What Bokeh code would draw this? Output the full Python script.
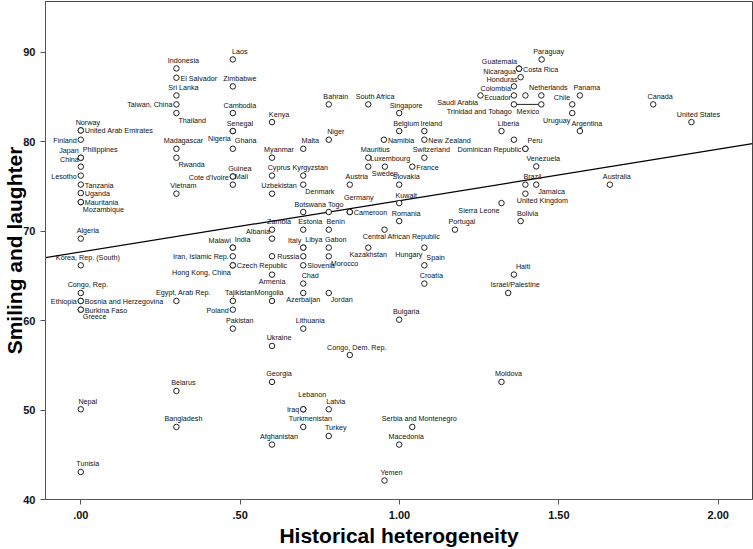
from bokeh.plotting import figure
from bokeh.models import ColumnDataSource, FixedTicker
from bokeh.core.properties import value
from bokeh.embed import file_html
from bokeh.resources import INLINE

# ---------------- data ----------------
countries = [
    "Laos", "Indonesia", "El Salvador", "Zimbabwe", "Sri Lanka", "Taiwan, China", "Cambodia", "Thailand",
    "Kenya", "Bahrain", "South Africa", "Singapore", "Paraguay", "Guatemala", "Nicaragua", "Costa Rica",
    "Honduras", "Colombia", "Ecuador", "Saudi Arabia", "", "Netherlands", "Panama", "Trinidad and Tobago",
    "Mexico", "Chile", "Uruguay", "Argentina", "Canada", "United States", "Norway", "United Arab Emirates",
    "Finland", "Philippines", "Japan", "China", "Lesotho", "Tanzania", "Uganda", "Mauritania",
    "Mozambique", "Algeria", "Korea, Rep. (South)", "Congo, Rep.", "Ethiopia", "Bosnia and Herzegovina",
    "Burkina Faso", "Greece", "Nepal", "Tunisia", "Madagascar", "Rwanda", "Vietnam", "Egypt, Arab Rep.",
    "Belarus", "Bangladesh", "Senegal", "Nigeria", "Ghana", "Guinea", "Cote d'Ivoire", "Mali",
    "Malawi", "India", "Iran, Islamic Rep.", "Czech Republic", "Hong Kong, China", "Tajikistan", "Poland",
    "Pakistan", "Myanmar", "Cyprus", "Uzbekistan", "Zambia", "Albania", "", "Armenia", "Mongolia",
    "Ukraine", "Georgia", "Afghanistan", "Malta", "Kyrgyzstan", "Denmark", "Botswana", "Estonia",
    "Italy", "Libya", "Russia", "Slovenia", "Chad", "Azerbaijan", "Lithuania", "Iraq", "Lebanon",
    "Turkmenistan", "Niger", "Togo", "Benin", "Gabon", "Morocco", "Jordan", "Latvia", "Turkey",
    "Austria", "Germany", "Cameroon", "Congo, Dem. Rep.", "Mauritius", "Luxembourg", "Kazakhstan",
    "Namibia", "Sweden", "Central African Republic", "Yemen", "Belgium", "Slovakia", "Kuwait", "Romania",
    "Bulgaria", "Macedonia", "France", "Serbia and Montenegro", "Ireland", "New Zealand", "Switzerland",
    "Hungary", "Spain", "Croatia", "Portugal", "Liberia", "Sierra Leone", "Moldova", "Israel/Palestine",
    "", "Haiti", "Peru", "Dominican Republic", "Brazil", "United Kingdom", "Bolivia", "Jamaica",
    "Venezuela", "Australia",
]

heterogeneity = [
    0.477, 0.300, 0.300, 0.477, 0.300, 0.300, 0.477, 0.300,
    0.600, 0.778, 0.902, 0.999, 1.446, 1.375, 1.375, 1.375,
    1.380, 1.359, 1.359, 1.254, 1.395, 1.445, 1.566, 1.359,
    1.445, 1.542, 1.542, 1.566, 1.796, 1.916, 0.000, 0.000,
    0.000, 0.000, 0.000, 0.000, 0.000, 0.000, 0.000, 0.000,
    0.000, 0.000, 0.000, 0.000, 0.000, 0.000,
    0.000, 0.000, 0.000, 0.000, 0.300, 0.300, 0.300, 0.300,
    0.300, 0.300, 0.477, 0.477, 0.477, 0.477, 0.477, 0.477,
    0.477, 0.477, 0.477, 0.477, 0.477, 0.477, 0.477,
    0.477, 0.600, 0.600, 0.600, 0.600, 0.600, 0.600, 0.600, 0.600,
    0.600, 0.600, 0.600, 0.698, 0.698, 0.698, 0.698, 0.698,
    0.698, 0.698, 0.698, 0.698, 0.698, 0.698, 0.698, 0.698, 0.698,
    0.698, 0.778, 0.778, 0.778, 0.778, 0.778, 0.778, 0.778, 0.778,
    0.844, 0.844, 0.844, 0.844, 0.902, 0.902, 0.902,
    0.951, 0.954, 0.953, 0.953, 0.999, 0.999, 0.999, 0.999,
    0.999, 0.999, 1.040, 1.040, 1.078, 1.078, 1.078,
    1.078, 1.078, 1.078, 1.174, 1.320, 1.320, 1.320, 1.341,
    1.359, 1.359, 1.395, 1.395, 1.395, 1.395, 1.380, 1.429,
    1.429, 1.660,
]

smiling = [
    89.18, 88.18, 87.14, 86.17, 85.16, 84.16, 83.19, 83.19,
    82.18, 84.16, 84.16, 83.19, 89.18, 88.15, 88.15, 88.15,
    87.20, 86.17, 85.16, 85.16, 85.16, 85.16, 85.16, 84.16,
    84.16, 84.16, 83.19, 81.18, 84.16, 82.18, 81.25, 81.25,
    80.21, 78.20, 78.20, 77.20, 76.20, 75.20, 74.25, 73.24,
    73.24, 69.16, 66.17, 63.08, 62.19, 62.19,
    61.22, 61.22, 50.08, 43.08, 79.20, 78.20, 74.18, 62.19,
    52.13, 48.11, 81.18, 81.18, 79.20, 76.10, 76.10, 75.19,
    68.15, 68.15, 67.18, 66.17, 66.17, 62.19, 61.22,
    59.10, 78.20, 76.20, 74.18, 70.16, 69.16, 67.18, 65.13, 62.19,
    57.16, 53.14, 46.14, 79.20, 76.20, 75.19, 72.13, 70.16,
    68.15, 68.15, 67.18, 66.17, 64.13, 63.08, 59.10, 50.08, 50.08,
    48.11, 80.21, 72.13, 70.16, 68.15, 67.18, 63.08, 50.08, 47.10,
    75.19, 72.13, 72.13, 56.15, 78.20, 77.20, 68.15,
    80.21, 77.20, 70.16, 42.12, 81.18, 75.19, 73.13, 71.12,
    60.10, 46.14, 77.20, 48.11, 81.18, 80.21, 78.20,
    68.15, 66.17, 64.13, 70.16, 81.18, 73.13, 53.14, 63.08,
    80.21, 65.14, 79.20, 79.20, 75.19, 74.18, 71.12, 75.19,
    77.23, 75.19,
]

# where each point's label sits relative to its marker (style, not data)
label_side = [
    "a", "a", "r", "a", "a", "l", "a", "br",
    "a", "a", "a", "a", "a", "al", "ld", "r",
    "ld", "ld", "ld", "bl", "", "a", "a", "bl",
    "bl", "al", "bl", "a", "a", "a", "a", "r",
    "l", "ar", "al", "al", "l", "r", "r", "r",
    "br", "a", "a", "a", "l", "r",
    "r", "br", "a", "a", "a", "br", "a", "a",
    "a", "a", "a", "bl", "ar", "a", "l", "ar",
    "al", "ar", "l", "r", "bl", "a", "l",
    "a", "a", "a", "a", "a", "al", "", "b", "ac",
    "a", "a", "a", "a", "a", "br", "a", "a",
    "al", "ar", "l", "r", "a", "b", "a", "l", "a2",
    "a", "a", "a", "a", "a", "br", "br", "a", "a",
    "a", "a2", "r", "a", "a", "ar", "b",
    "r", "b", "b3", "a", "a", "a", "a", "a",
    "a", "a", "r", "a", "a", "r", "a",
    "bl", "ar", "a", "a", "a", "bl", "a", "a",
    "", "ar", "ar", "l", "a", "b3", "a", "br",
    "a", "a",
]

# the leader line drawn between two labelled points
leader_pairs = [("Trinidad and Tobago", "Mexico")]

# fitted line: smiling = intercept + slope * heterogeneity
fit_intercept = 67.67
fit_slope = 5.74

x_ticks = [0, 0.5, 1, 1.5, 2]
x_tick_labels = [".00", ".50", "1.00", "1.50", "2.00"]
y_ticks = [40, 50, 60, 70, 80, 90]

x_title = "Historical heterogeneity"
y_title = "Smiling and laughter"

# ---------------- layout / styling ----------------
X0, X1 = -0.1108, 2.1076
Y0, Y1 = 40.0, 95.66

OFFSETS = {
    "a": (7, -8, "center"), "a2": (9, -15, "center"), "ac": (-3, -8, "center"),
    "b": (0, 7, "center"), "b3": (17, 7, "center"),
    "l": (-4, 0.5, "right"), "ld": (-3, 2.5, "right"), "r": (4, 0.5, "left"),
    "al": (-2, -7, "right"), "ar": (2, -8, "left"),
    "bl": (-2, 7, "right"), "br": (2, 7, "left"),
}

p = figure(width=753, height=549, x_range=(X0, X1), y_range=(Y0, Y1),
           output_backend="svg", toolbar_location=None,
           min_border_left=45, min_border_right=1, min_border_top=1, min_border_bottom=50)
p.background_fill_color = "white"
p.border_fill_color = "white"
p.outline_line_color = "#444444"
p.outline_line_width = 1
p.grid.visible = False

FONT = "Liberation Sans"

# regression line across the whole frame
p.line(x=[X0, X1], y=[fit_intercept + fit_slope * X0, fit_intercept + fit_slope * X1],
       line_color="black", line_width=1.2)

# leader lines
name_idx = {n: i for i, n in enumerate(countries) if n}
for a, b in leader_pairs:
    ia, ib = name_idx[a], name_idx[b]
    p.line(x=[heterogeneity[ia], heterogeneity[ib]], y=[smiling[ia], smiling[ib]],
           line_color="#222222", line_width=1)

# markers
src = ColumnDataSource(dict(x=heterogeneity, y=smiling, name=countries))
p.scatter("x", "y", source=src, marker="circle", size=5.5, fill_color="white",
          line_color="#222222", line_width=1)

# point labels, grouped by alignment
for align in ("left", "center", "right"):
    xs, ys, ts, dxs, dys = [], [], [], [], []
    for n, x, y, s in zip(countries, heterogeneity, smiling, label_side):
        if not n or not s:
            continue
        dx, dy, al = OFFSETS[s]
        if al != align:
            continue
        xs.append(x); ys.append(y); ts.append(n); dxs.append(dx); dys.append(dy)
    ls = ColumnDataSource(dict(x=xs, y=ys, t=ts, dx=dxs, dy=dys))
    p.text(x="x", y="y", text="t", source=ls, x_offset="dx", y_offset="dy",
           text_align=align, text_baseline="middle", text_font=value(FONT),
           text_font_size="7.2px", text_color="#111111")

# axes
p.xaxis.ticker = FixedTicker(ticks=x_ticks)
p.xaxis.major_label_overrides = {t: l for t, l in zip(x_ticks, x_tick_labels)}
p.yaxis.ticker = FixedTicker(ticks=y_ticks)
for ax in (p.xaxis[0], p.yaxis[0]):
    ax.axis_line_color = "#555555"
    ax.major_tick_line_color = "#555555"
    ax.major_tick_in = 0
    ax.major_tick_out = 5
    ax.minor_tick_line_color = None
    ax.major_label_text_font = FONT
    ax.major_label_text_font_size = "11px"
    ax.major_label_text_font_style = "bold"
    ax.major_label_text_color = "#111111"
    ax.axis_label_text_font = FONT
    ax.axis_label_text_font_size = "21px"
    ax.axis_label_text_font_style = "bold"
    ax.axis_label_text_color = "black"
p.xaxis.axis_label = x_title
p.yaxis.axis_label = y_title
p.xaxis.major_label_standoff = 6
p.yaxis.major_label_standoff = 5
p.xaxis.axis_label_standoff = 2
p.yaxis.axis_label_standoff = -6

open("out.html", "w").write(file_html(p, INLINE))
